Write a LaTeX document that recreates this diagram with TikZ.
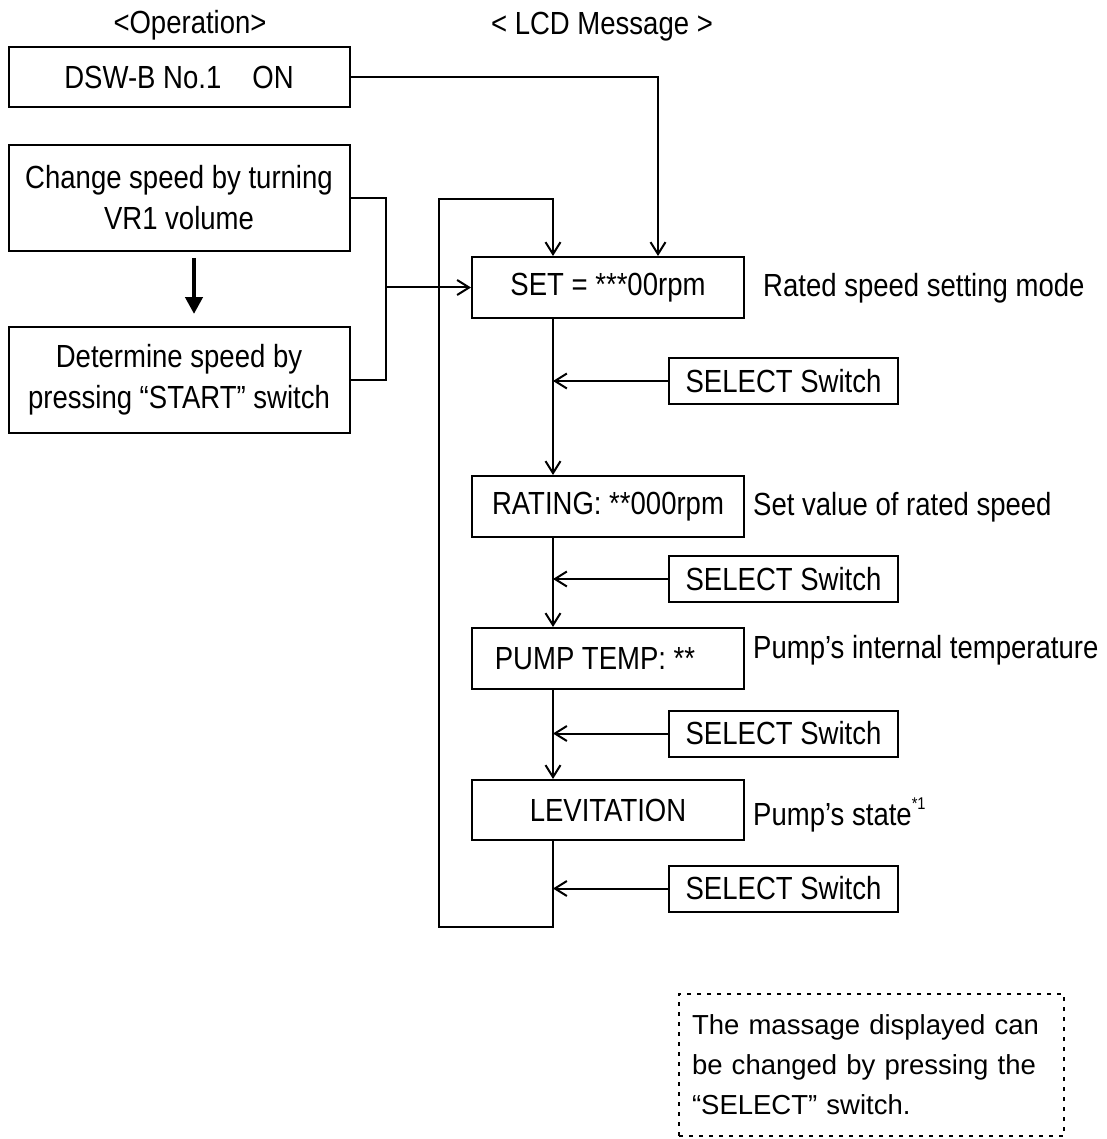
\documentclass[tikz,border=0pt]{standalone}
\usepackage{fontspec}
\setmainfont{Liberation Sans}[FakeStretch=0.86]
\newfontfamily\notefont{Liberation Sans}
\usetikzlibrary{arrows.meta}
\begin{document}
\begin{tikzpicture}[x=1pt,y=-1pt,
  font=\fontsize{32}{41}\selectfont,
  box/.style={draw, line width=2pt, inner sep=0pt, align=center},
  selbox/.style={box, minimum width=229pt, minimum height=46pt},
  lcdbox/.style={box, minimum width=272pt, minimum height=61pt},
  opbox/.style={box, minimum width=341pt},
  conn/.style={line width=2pt},
  arr/.style={line width=2pt, -{Straight Barb[length=12pt,width=15pt]}},
  side/.style={anchor=west, inner sep=0pt}]
\useasboundingbox (0,0) rectangle (1106,1139);
% headings
\node (op) at (190,25) {<Operation>};
\node (lcd) at (602,27) {< LCD Message >};
% operation column
\node[opbox, minimum height=60pt] (dsw) at (179,77) {DSW-B No.1\hspace{31pt}ON};
\node[opbox, minimum height=106pt] (chg) at (179,198) {Change speed by turning\\VR1 volume};
\node[opbox, minimum height=106pt] (det) at (179,380) {Determine speed by\\pressing “START” switch};
\draw[line width=4.5pt, -{Triangle[length=17pt,width=17pt]}] ([xshift=15pt,yshift=-6pt]chg.south) -- ([xshift=15pt,yshift=12pt]det.north);
% LCD column
\node[lcdbox] (set) at (608,287.5) {SET = ***00rpm};
\node[lcdbox] (rat) at (608,506.5) {RATING: **000rpm};
\node[lcdbox] (pump) at (608,658.5) {\hspace*{-26pt}PUMP TEMP: **};
\node[lcdbox, minimum height=60pt] (lev) at (608,810) {LEVITATION};
\node[selbox] (sel1) at (783.5,381) {SELECT Switch};
\node[selbox] (sel2) at (783.5,579) {SELECT Switch};
\node[selbox] (sel3) at (783.5,733.5) {SELECT Switch};
\node[selbox] (sel4) at (783.5,888.5) {SELECT Switch};
\node[side] (t1) at (763,288) {Rated speed setting mode};
\node[side] (t2) at (753,507) {Set value of rated speed};
\node[side] (t3) at (753,650) {Pump’s internal temperature};
\node[side] (t4) at (753,815) {Pump’s state\raisebox{16pt}{\fontsize{17}{17}\selectfont *1}};
% coordinates
\coordinate (mx) at ([xshift=-55pt]set.south);
\coordinate (brk) at (386,287.5);
\coordinate (lb) at (439,927);
\coordinate (lt) at (439,199);
% connectors
\draw[arr] (dsw.east) -| ([xshift=50pt]set.north);
\draw[conn] (chg.east) -| (brk) |- (det.east);
\draw[arr] (brk) -- (set.west);
\draw[arr] (mx) -- (rat.north -| mx);
\draw[arr] (rat.south -| mx) -- (pump.north -| mx);
\draw[arr] (pump.south -| mx) -- (lev.north -| mx);
\draw[arr] (lev.south -| mx) |- (lb) -- (lt) -| (set.north -| mx);
\draw[arr] (sel1.west) -- (sel1.west -| mx);
\draw[arr] (sel2.west) -- (sel2.west -| mx);
\draw[arr] (sel3.west) -- (sel3.west -| mx);
\draw[arr] (sel4.west) -- (sel4.west -| mx);
% note
\node[draw, line width=2pt, dash pattern=on 4pt off 6pt, minimum width=385pt, minimum height=142pt,
  inner xsep=13pt, text width=359pt, align=left, font=\notefont\fontsize{27.5}{40}\selectfont] (note) at (871.5,1065)
  {The massage displayed can\\be changed by pressing the\\“SELECT” switch.};
\end{tikzpicture}
\end{document}
